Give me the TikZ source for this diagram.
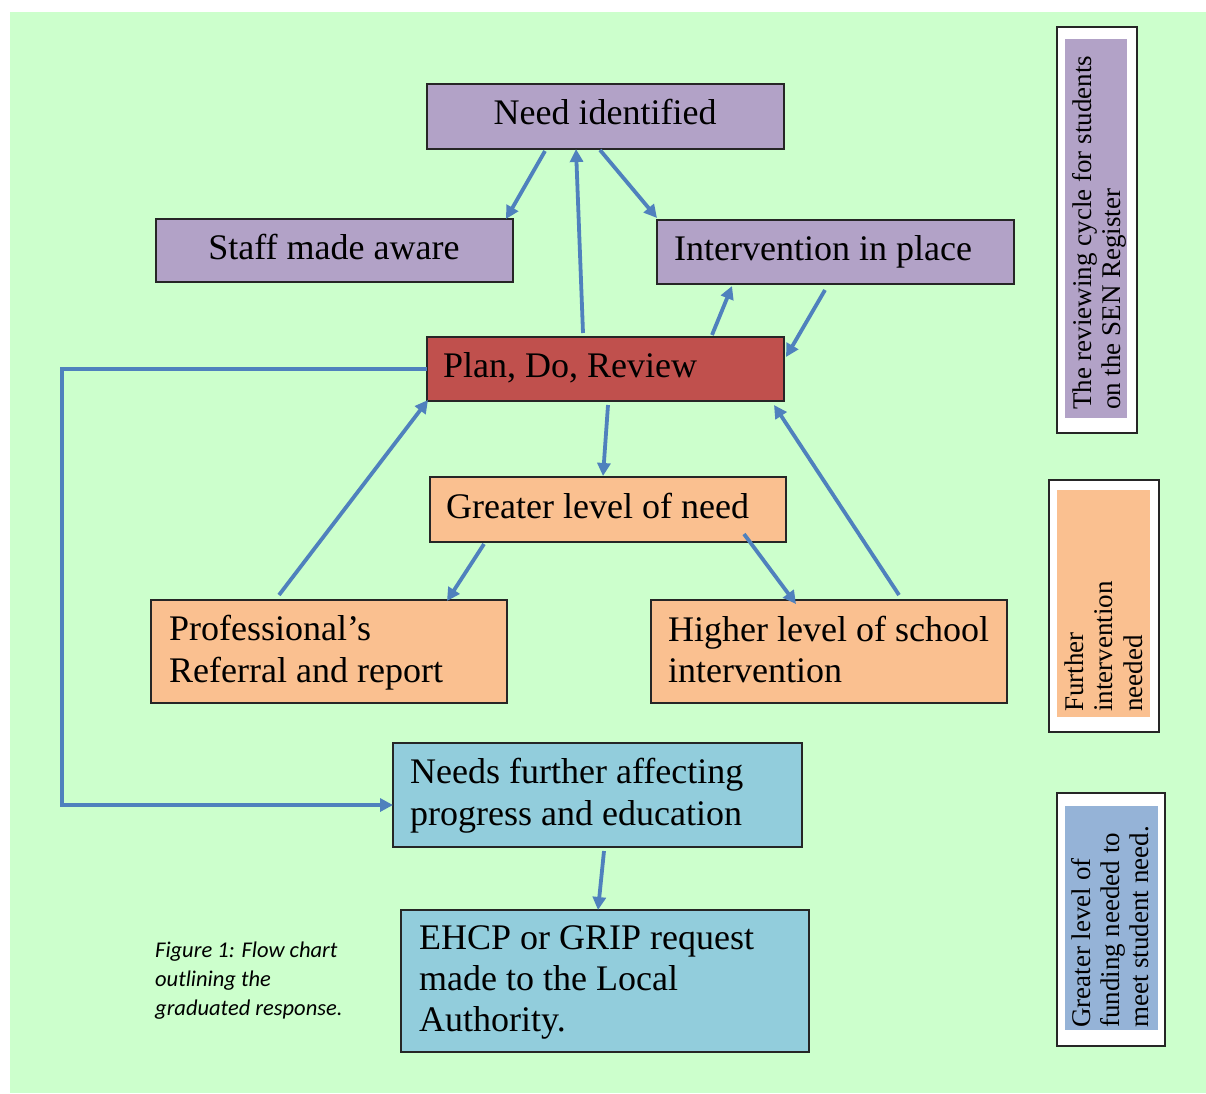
\documentclass[tikz,border=0pt]{standalone}
\usepackage{fontspec}
\setmainfont{Liberation Serif}
\newfontfamily\capfont{Carlito}
\usetikzlibrary{arrows.meta,calc}
\definecolor{bg}{HTML}{CCFFCC}
\definecolor{purp}{HTML}{B2A2C7}
\definecolor{redbox}{HTML}{C0504D}
\definecolor{orng}{HTML}{FAC090}
\definecolor{bluebox}{HTML}{92CDDC}
\definecolor{legblue}{HTML}{95B3D7}
\definecolor{arrowblue}{HTML}{4F81BD}
\begin{document}
\begin{tikzpicture}[x=1pt,y=-1pt,
  box/.style={draw=black!85, line width=1.3pt, inner sep=0pt, outer sep=0pt, anchor=north west},
  btxt/.style={inner sep=0pt, anchor=base west, font=\fontsize{36}{42}\selectfont},
  conn/.style={draw=arrowblue, line width=3.8pt, -{Triangle[length=13pt,width=13pt]}},
  legout/.style={draw=black!85, line width=1.6pt, fill=white, inner sep=0pt, outer sep=0pt, anchor=north west},
  legin/.style={inner sep=0pt, outer sep=0pt, anchor=north west},
  legtxt/.style={inner sep=0pt, anchor=base west, rotate=90, font=\fontsize{27}{29}\selectfont},
  captxt/.style={inner sep=0pt, anchor=base west, font=\capfont\itshape\fontsize{22.5}{29}\selectfont}
]
\useasboundingbox (0,0) rectangle (1206,1093);
\fill[white] (0,0) rectangle (1206,1093);
\fill[bg] (10,12) rectangle (1206,1093);

% boxes
\node[box, fill=purp, minimum width=357pt, minimum height=65pt] (need) at (427,84) {};
\node[box, fill=purp, minimum width=357pt, minimum height=63pt] (staff) at (156,219) {};
\node[box, fill=purp, minimum width=357pt, minimum height=64pt] (interv) at (657,220) {};
\node[box, fill=redbox, minimum width=357pt, minimum height=64pt] (plan) at (427,337) {};
\node[box, fill=orng, minimum width=356pt, minimum height=65pt] (greater) at (430,477) {};
\node[box, fill=orng, minimum width=356pt, minimum height=103pt] (prof) at (151,600) {};
\node[box, fill=orng, minimum width=356pt, minimum height=103pt] (higher) at (651,600) {};
\node[box, fill=bluebox, minimum width=409pt, minimum height=104pt] (needs) at (393,743) {};
\node[box, fill=bluebox, minimum width=408pt, minimum height=142pt] (ehcp) at (401,910) {};

% box texts
\node[btxt, anchor=base] (needT) at (605,124) {Need identified};
\node[btxt, anchor=base] (staffT) at (334,259) {Staff made aware};
\node[btxt] (intervT) at (674,260) {Intervention in place};
\node[btxt] (planT) at (443,377) {Plan, Do, Review};
\node[btxt] (greaterT) at (446,518) {Greater level of need};
\node[btxt] (profT1) at (169,640) {Professional’s};
\node[btxt] (profT2) at (169,682) {Referral and report};
\node[btxt] (higherT1) at (668,641) {Higher level of school};
\node[btxt] (higherT2) at (668,682) {intervention};
\node[btxt] (needsT1) at (410,783) {Needs further affecting};
\node[btxt] (needsT2) at (410,825) {progress and education};
\node[btxt] (ehcpT1) at (419,949) {EHCP or GRIP request};
\node[btxt] (ehcpT2) at (419,990) {made to the Local};
\node[btxt] (ehcpT3) at (419,1031) {Authority.};

% connectors
\draw[conn] ($(need.south west)+(118,2)$) -- ($(staff.north east)+(-7,0)$);
\draw[conn] ($(plan.north west)+(156,-4)$) -- ($(need.south west)+(149,0)$);
\draw[conn] ($(need.south west)+(173,1)$) -- ($(interv.north west)+(0,-2)$);
\draw[conn] ($(plan.north west)+(285,-2)$) -- ($(interv.south west)+(75,2)$);
\draw[conn] ($(interv.south west)+(168,6)$) -- ($(plan.north east)+(2,20)$);
\draw[conn] ($(plan.south west)+(181,4)$) -- ($(greater.north west)+(173,-1)$);
\draw[conn] ($(greater.south west)+(54,2)$) -- ($(prof.north west)+(296,1)$);
\draw[conn] ($(greater.south west)+(314,-8)$) -- ($(higher.north west)+(145,4)$);
\draw[conn] ($(prof.north west)+(128,-5)$) -- ($(plan.south west)+(1,-1)$);
\draw[conn] ($(higher.north west)+(248,-5)$) -- ($(plan.south east)+(-10,4)$);
\draw[conn] (plan.west) -- ++(-365,0) |- ($(needs.west)+(0,10)$);
\draw[conn] ($(needs.south west)+(211,4)$) -- ($(ehcp.north west)+(197,0)$);

% legends
\node[legout, minimum width=80pt, minimum height=406pt] (leg1) at (1057,27) {};
\node[legin, fill=purp, minimum width=62pt, minimum height=379pt] (leg1in) at (1065,39) {};
\node[legtxt] (leg1a) at (1091,410) {The reviewing cycle for students};
\node[legtxt] (leg1b) at (1120,410) {on the SEN Register};

\node[legout, minimum width=110pt, minimum height=252pt] (leg2) at (1049,480) {};
\node[legin, fill=orng, minimum width=93pt, minimum height=227pt] (leg2in) at (1057,490) {};
\node[legtxt] (leg2a) at (1083,712) {Further};
\node[legtxt] (leg2b) at (1112,712) {intervention};
\node[legtxt] (leg2c) at (1142,712) {needed};

\node[legout, minimum width=108pt, minimum height=253pt] (leg3) at (1057,793) {};
\node[legin, fill=legblue, minimum width=93pt, minimum height=224pt] (leg3in) at (1065,806) {};
\node[legtxt] (leg3a) at (1090,1028) {Greater level of};
\node[legtxt] (leg3b) at (1119,1028) {funding needed to};
\node[legtxt] (leg3c) at (1148,1028) {meet student need.};

% caption
\node[captxt] (cap1) at (155,957) {Figure 1: Flow chart};
\node[captxt] (cap2) at (155,986) {outlining the};
\node[captxt] (cap3) at (155,1015) {graduated response.};
\end{tikzpicture}
\end{document}
